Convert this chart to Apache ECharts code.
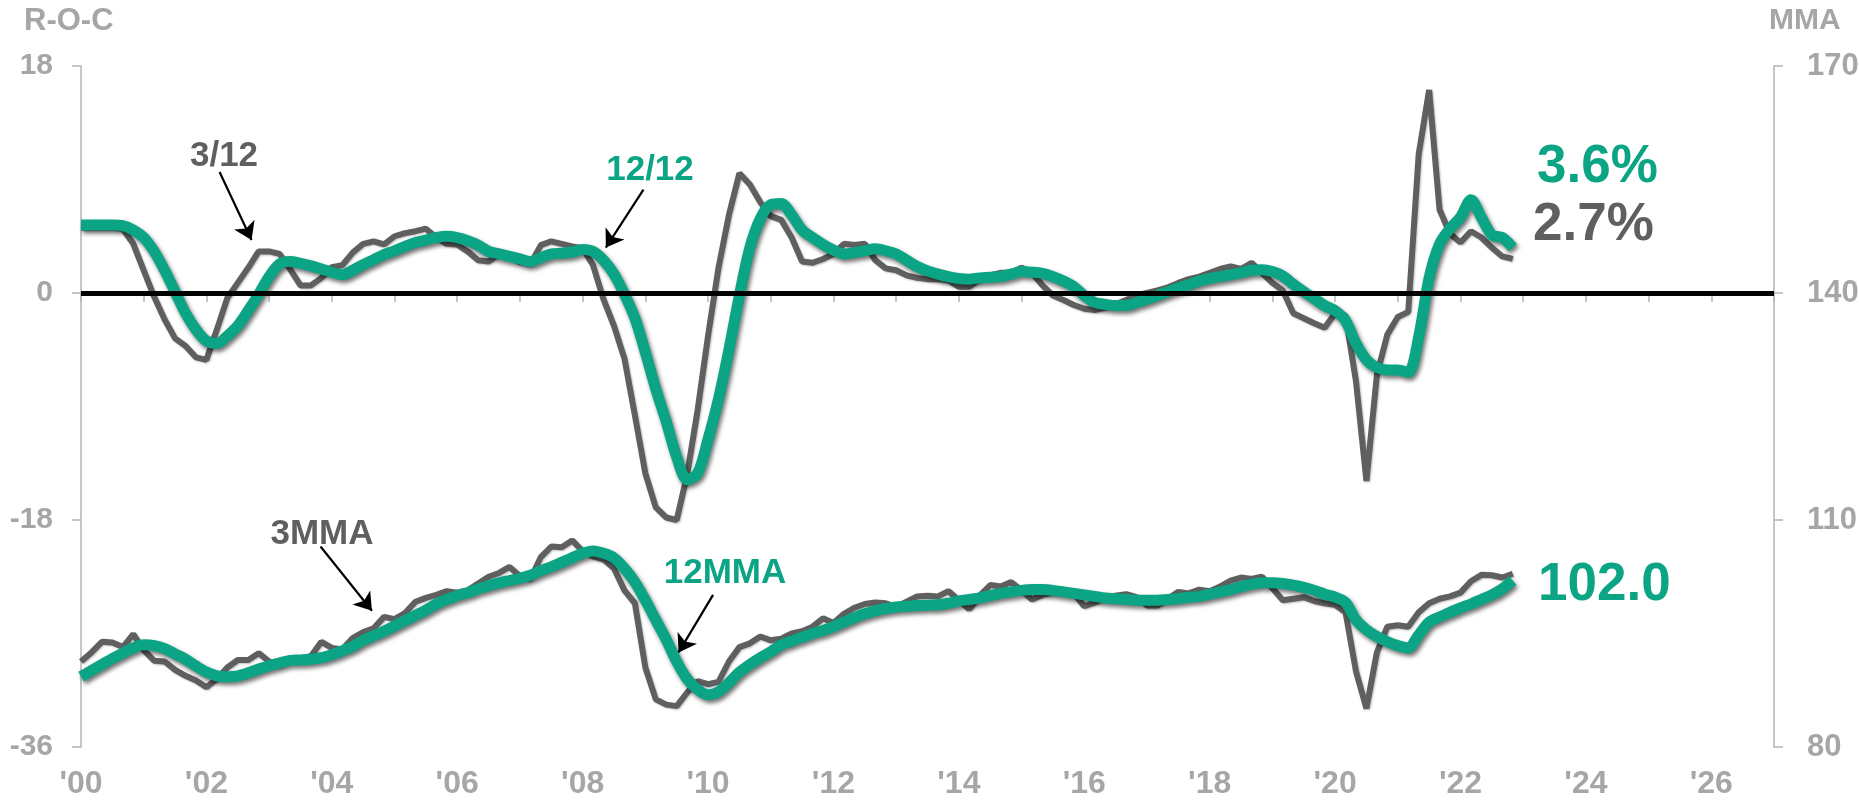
<!DOCTYPE html>
<html>
<head>
<meta charset="utf-8">
<script src="https://cdn.jsdelivr.net/npm/echarts@6/dist/echarts.min.js"></script>
<style>
  html, body { margin: 0; padding: 0; background: #fff; }
  #main { width: 1859px; height: 802px; }
</style>
</head>
<body>
<div id="main"></div>
<script>
const chartDom = document.getElementById('main');
const myChart = echarts.init(chartDom);

// bi-monthly observations, Jan 2000 .. Nov 2022
const dates = Array.from({ length: 138 }, (_, i) => 2000 + i / 6);

// rate-of-change, left axis (%)
const roc312 = [
  5.2, 5.2, 5.2, 5.2, 5.1, 3.9, 1.8, -0.3, -2.1, -3.6, -4.2, -5.1,
  -5.3, -2.9, -0.4, 0.8, 2.0, 3.3, 3.3, 3.1, 1.9, 0.6, 0.6, 1.2,
  2.05, 2.2, 3.2, 3.9, 4.1, 3.85, 4.5, 4.75, 4.9, 5.1, 4.4, 3.9,
  3.85, 3.3, 2.6, 2.5, 3.1, 2.9, 2.45, 2.3, 3.8, 4.1, 3.9, 3.7,
  3.55, 2.2, -0.5, -2.6, -5.2, -9.7, -14.3, -17.0, -17.8, -18.0, -14.4, -9.3,
  -3.4, 2.0, 6.2, 9.5, 8.6, 7.2, 6.1, 5.8, 4.4, 2.5, 2.4, 2.7,
  3.1, 3.9, 3.8, 3.9, 2.6, 1.95, 1.8, 1.4, 1.2, 1.1, 1.1, 1.0,
  0.5, 0.5, 1.1, 1.4, 1.6, 1.6, 2.0, 1.6, 0.6, -0.2, -0.55, -0.95,
  -1.25, -1.35, -1.15, -0.9, -0.55, -0.2, 0.0, 0.2, 0.45, 0.8, 1.1, 1.3,
  1.6, 1.9, 2.1, 1.9, 2.4, 1.6, 0.8, 0.2, -1.6, -2.0, -2.4, -2.75,
  -1.6, -1.8, -7.0, -14.9, -6.5, -3.3, -1.9, -1.5, 11.0, 16.1, 6.6, 4.7,
  4.0, 4.9, 4.4, 3.6, 2.9, 2.7
];
const roc1212 = [
  5.4, 5.4, 5.4, 5.4, 5.35, 5.0, 4.4, 3.3, 1.8, 0.1, -1.6, -2.9,
  -3.8, -4.0, -3.4, -2.6, -1.4, -0.1, 1.3, 2.3, 2.5, 2.35, 2.15, 1.9,
  1.65, 1.45, 1.8, 2.25, 2.65, 3.05, 3.35, 3.7, 4.0, 4.2, 4.4, 4.5,
  4.4, 4.15, 3.8, 3.3, 3.1, 2.9, 2.7, 2.5, 2.8, 3.1, 3.15, 3.25,
  3.45, 3.3, 2.6, 1.5, -0.1, -2.0, -4.7, -7.6, -10.2, -13.0, -14.8, -14.3,
  -11.6, -8.4, -4.5, -0.2, 3.6, 5.9, 7.0, 7.1, 6.2, 5.0, 4.4, 3.85,
  3.4, 3.1, 3.2, 3.35, 3.5, 3.35, 3.1, 2.6, 2.1, 1.75, 1.5, 1.3,
  1.15, 1.1, 1.2, 1.25, 1.3, 1.5, 1.7, 1.65, 1.55, 1.3, 0.95, 0.5,
  -0.2, -0.75, -0.9, -1.0, -1.0, -0.75, -0.5, -0.2, 0.1, 0.4, 0.65, 0.95,
  1.15, 1.3, 1.45, 1.6, 1.8, 1.85, 1.7, 1.35, 0.7, 0.1, -0.45, -1.0,
  -1.4, -2.2, -4.0, -5.3, -5.9, -6.1, -6.1, -6.3, -3.5, 1.2, 3.9, 5.1,
  6.0, 7.4, 6.0, 4.6, 4.4, 3.6
];

// moving averages, right axis
const mma3 = [
  91.3, 92.5, 93.9, 93.8, 93.2, 94.9, 92.8, 91.4, 91.3, 90.2, 89.4, 88.8,
  87.9, 89.0, 90.5, 91.5, 91.5, 92.4, 91.3, 90.8, 91.7, 91.7, 92.0, 93.9,
  93.1, 92.9, 94.4, 95.2, 95.7, 97.2, 96.9, 97.7, 99.2, 99.7, 100.1, 100.6,
  100.4, 100.7, 101.6, 102.5, 103.0, 103.8, 102.6, 102.2, 105.1, 106.5, 106.4, 107.3,
  105.9, 105.2, 104.8, 103.6, 100.7, 99.0, 90.5, 86.3, 85.6, 85.4, 87.2, 88.7,
  88.3, 88.6, 91.3, 93.2, 93.7, 94.6, 94.1, 94.3, 95.0, 95.3, 95.9, 97.0,
  96.4, 97.6, 98.4, 98.9, 99.1, 99.0, 98.5, 99.2, 99.9, 100.0, 99.9, 100.6,
  99.4, 98.2, 100.0, 101.4, 101.2, 101.8, 100.7, 99.5, 100.1, 100.4, 100.7, 100.3,
  98.6, 99.1, 99.7, 100.0, 100.2, 99.8, 98.7, 98.7, 99.6, 100.5, 100.3, 100.8,
  100.6, 101.2, 102.0, 102.4, 102.2, 102.5, 101.0, 99.4, 99.6, 99.8, 99.3, 99.0,
  98.8, 97.8, 90.0, 85.1, 92.5, 95.9, 96.1, 95.9, 97.8, 99.0, 99.6, 99.9,
  100.4, 101.9, 102.75, 102.7, 102.4, 102.9
];
const mma12 = [
  89.3, 90.1, 90.9, 91.7, 92.4, 93.1, 93.5, 93.4, 93.0, 92.3, 91.6, 90.7,
  89.9, 89.4, 89.3, 89.4, 89.8, 90.3, 90.75, 91.1, 91.45, 91.5, 91.6, 91.8,
  92.2, 92.7, 93.3, 94.1, 94.7, 95.3, 96.0, 96.7, 97.4, 98.1, 98.9, 99.5,
  100.0, 100.4, 100.9, 101.3, 101.7, 102.0, 102.3, 102.7, 103.3, 103.8, 104.4, 105.0,
  105.6, 105.9, 105.6, 105.0, 103.6, 101.8, 99.4, 96.8, 94.2, 91.3, 89.0, 87.6,
  86.9, 87.3, 88.5, 89.9, 90.9, 91.8, 92.6, 93.5, 94.0, 94.5, 95.0, 95.4,
  95.9, 96.5, 97.1, 97.6, 98.0, 98.3, 98.5, 98.6, 98.7, 98.75, 98.8, 99.0,
  99.3, 99.5, 99.7, 100.0, 100.3, 100.5, 100.7, 100.8, 100.8, 100.7, 100.5, 100.3,
  100.1, 99.9, 99.7, 99.6, 99.5, 99.4, 99.4, 99.4, 99.5, 99.6, 99.8, 99.9,
  100.2, 100.5, 100.8, 101.2, 101.5, 101.7, 101.7, 101.6, 101.4, 101.1, 100.7, 100.2,
  99.8, 99.1, 96.8, 95.5, 94.6, 93.9, 93.4, 93.1, 94.8, 96.5, 97.2, 97.8,
  98.4, 98.9, 99.5, 100.1, 100.9, 102.0
];

const GREEN = '#0ba585';
const GRAY = '#5f5f5f';
const AXIS_GRAY = '#a6a6a6';
const FONT = '"Liberation Sans", Arial, sans-serif';

const pairs = (vals) => vals.map((v, i) => [dates[i], v]);

const greenShadow = {
  shadowColor: 'rgba(0,0,0,0.55)',
  shadowBlur: 4,
  shadowOffsetX: 2,
  shadowOffsetY: 3
};
const grayShadow = {
  shadowColor: 'rgba(0,0,0,0.25)',
  shadowBlur: 2,
  shadowOffsetX: 1,
  shadowOffsetY: 1
};

const arrowLine = {
  silent: true,
  symbol: ['none', 'arrow'],
  symbolSize: 17,
  label: { show: false },
  lineStyle: { color: '#000', width: 2.2, type: 'solid' }
};

let option = {
  animation: false,
  backgroundColor: '#fff',
  grid: { left: 81, right: 85, top: 66, bottom: 55, containLabel: false, outerBoundsMode: 'none' },
  xAxis: {
    type: 'value',
    min: 2000,
    max: 2027,
    interval: 1,
    axisLine: { lineStyle: { color: '#b4b4b4', width: 1.5 } },
    axisTick: { length: 9, lineStyle: { color: '#b4b4b4', width: 1.5 } },
    splitLine: { show: false },
    axisLabel: {
      margin: 21,
      color: AXIS_GRAY,
      fontSize: 32,
      fontWeight: 'bold',
      fontFamily: FONT,
      formatter: v => (v % 2 === 0 && v < 2027) ? "'" + String(v).slice(2) : ''
    }
  },
  yAxis: [
    {
      type: 'value',
      min: -36,
      max: 18,
      interval: 18,
      axisLine: { show: true, lineStyle: { color: '#b4b4b4', width: 1.5 } },
      axisTick: { show: true, length: 9, lineStyle: { color: '#b4b4b4', width: 1.5 } },
      splitLine: { show: false },
      axisLabel: { margin: 28, color: AXIS_GRAY, fontSize: 30, fontWeight: 'bold', fontFamily: FONT }
    },
    {
      type: 'value',
      position: 'right',
      min: 80,
      max: 170,
      interval: 30,
      axisLine: { show: true, lineStyle: { color: '#b4b4b4', width: 1.5 } },
      axisTick: { show: true, length: 9, lineStyle: { color: '#b4b4b4', width: 1.5 } },
      splitLine: { show: false },
      axisLabel: { margin: 33, color: AXIS_GRAY, fontSize: 31, fontWeight: 'bold', fontFamily: FONT }
    }
  ],
  graphic: [
    { type: 'text', x: 24, y: 21, style: { text: 'R-O-C', fill: AXIS_GRAY, font: 'bold 31px ' + FONT, verticalAlign: 'middle' } },
    { type: 'text', x: 1769, y: 21, style: { text: 'MMA', fill: AXIS_GRAY, font: 'bold 30px ' + FONT, verticalAlign: 'middle' } },
    { type: 'text', x: 224, y: 156, style: { text: '3/12', fill: GRAY, font: 'bold 35px ' + FONT, align: 'center', verticalAlign: 'middle' } },
    { type: 'text', x: 650, y: 170, style: { text: '12/12', fill: GREEN, font: 'bold 35px ' + FONT, align: 'center', verticalAlign: 'middle' } },
    { type: 'text', x: 322, y: 534, style: { text: '3MMA', fill: GRAY, font: 'bold 35px ' + FONT, align: 'center', verticalAlign: 'middle' } },
    { type: 'text', x: 725, y: 573, style: { text: '12MMA', fill: GREEN, font: 'bold 35px ' + FONT, align: 'center', verticalAlign: 'middle' } },
    { type: 'text', x: 1537, y: 167, style: { text: '3.6%', fill: GREEN, font: 'bold 53px ' + FONT, verticalAlign: 'middle' } },
    { type: 'text', x: 1533, y: 225, style: { text: '2.7%', fill: GRAY, font: 'bold 53px ' + FONT, verticalAlign: 'middle' } },
    { type: 'text', x: 1538, y: 585, style: { text: '102.0', fill: GREEN, font: 'bold 53px ' + FONT, verticalAlign: 'middle' } }
  ],
  series: [
    {
      name: '3/12',
      type: 'line',
      yAxisIndex: 0,
      showSymbol: false,
      lineStyle: Object.assign({ color: GRAY, width: 6 }, grayShadow),
      data: pairs(roc312),
      markLine: {
        silent: true,
        symbol: ['none', 'none'],
        label: { show: false },
        lineStyle: { color: '#000', width: 5, type: 'solid' },
        data: [{ yAxis: 0 }]
      },
      z: 2
    },
    {
      name: '12/12',
      type: 'line',
      yAxisIndex: 0,
      showSymbol: false,
      smooth: 0.3,
      lineStyle: Object.assign({ color: GREEN, width: 11 }, greenShadow),
      data: pairs(roc1212),
      markLine: Object.assign({}, arrowLine, {
        data: [
          [{ coord: [2002.21, 9.6] }, { coord: [2002.72, 4.2] }],
          [{ coord: [2008.97, 8.2] }, { coord: [2008.37, 3.6] }]
        ]
      }),
      z: 3
    },
    {
      name: '3MMA',
      type: 'line',
      yAxisIndex: 1,
      showSymbol: false,
      lineStyle: Object.assign({ color: GRAY, width: 6 }, grayShadow),
      data: pairs(mma3),
      z: 2
    },
    {
      name: '12MMA',
      type: 'line',
      yAxisIndex: 1,
      showSymbol: false,
      smooth: 0.3,
      lineStyle: Object.assign({ color: GREEN, width: 11 }, greenShadow),
      data: pairs(mma12),
      markLine: Object.assign({}, arrowLine, {
        data: [
          [{ coord: [2003.82, 106.5] }, { coord: [2004.64, 98.0] }],
          [{ coord: [2010.08, 100.1] }, { coord: [2009.53, 92.5] }]
        ]
      }),
      z: 3
    }
  ]
};

myChart.setOption(option);
</script>
</body>
</html>
